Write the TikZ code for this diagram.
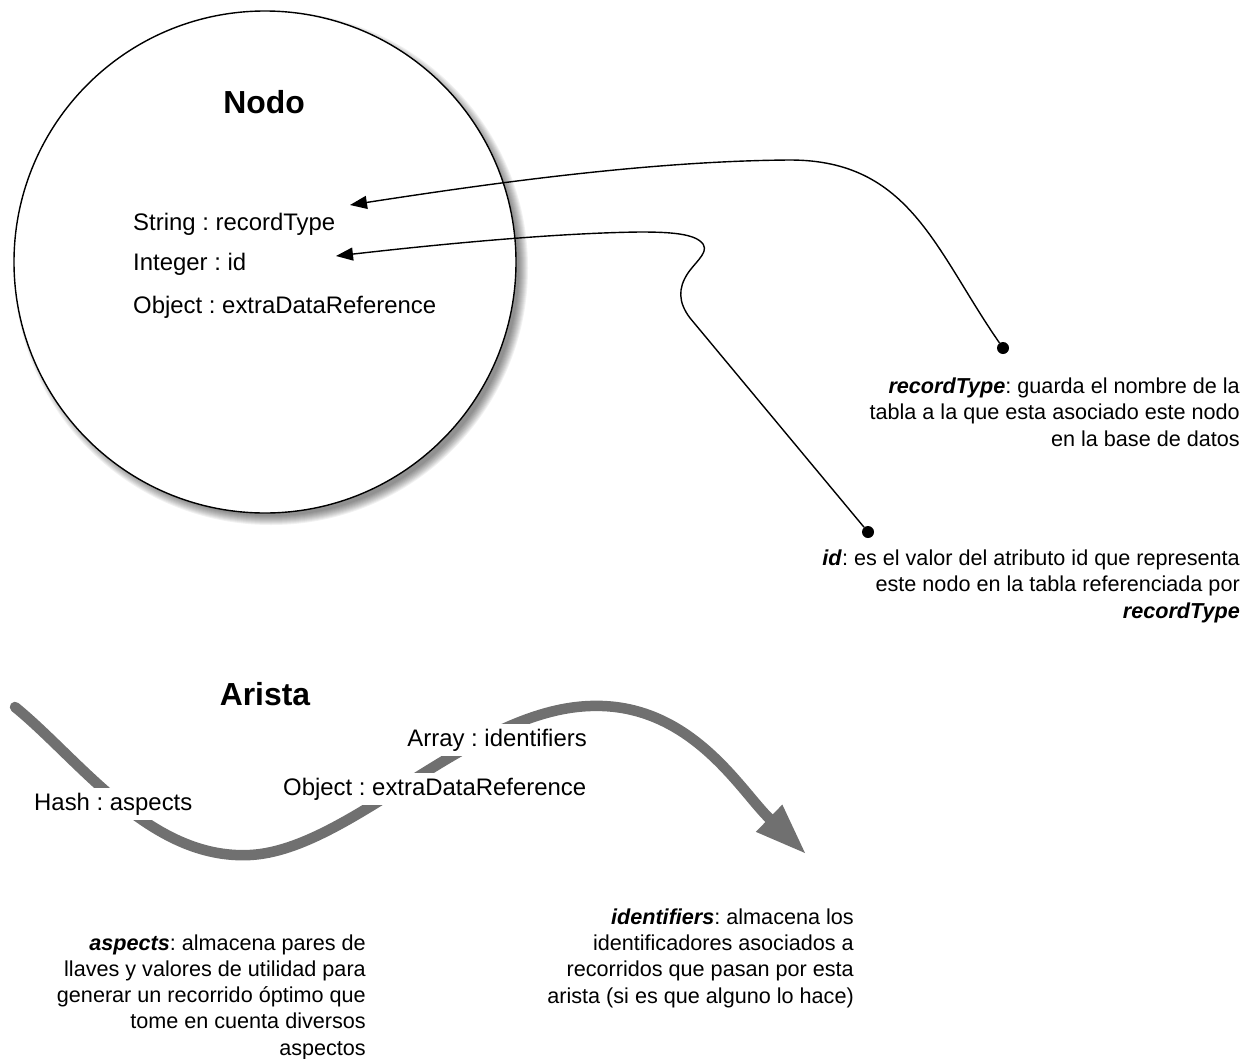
\documentclass[tikz,border=0pt]{standalone}
\usepackage{fontspec}
\setmainfont{Liberation Sans}
\usetikzlibrary{arrows.meta}

\definecolor{edgegray}{HTML}{707070}
\frenchspacing

\begin{document}
\begin{tikzpicture}[x=1bp,y=-1bp,
  attr/.style={font=\fontsize{24}{28}\selectfont, inner sep=0pt},
  heading/.style={font=\fontsize{32}{38}\selectfont\bfseries, inner sep=0pt},
  note/.style={font=\fontsize{21.7}{26.3}\selectfont, align=right, inner sep=0pt},
  masked/.style={attr, fill=white, inner xsep=3bp, inner ysep=5bp},
  pin/.style={circle, fill=black, inner sep=0pt, minimum size=12bp},
  link/.style={draw=black, line width=1.4bp, -{Triangle[length=17bp,width=13bp]}},
  flow/.style={draw=edgegray, line width=10.5bp, line cap=round,
               -{Triangle[length=50bp,width=38bp,line width=0pt]}}
]
\useasboundingbox (0,0) rectangle (1254,1059);

% soft drop shadow behind the node circle
\foreach \r in {248,249,...,257}
  \fill[black, opacity=0.055] (271,268) circle [radius=\r];

% the node
\node[draw=black, line width=1.4bp, fill=white, circle, minimum size=502bp, inner sep=0pt]
  (nodo) at (265,262) {};

\node[heading, anchor=base] (nodoTitle) at (264,113) {Nodo};
\node[attr, anchor=base west] (fRecord) at (133,230) {String : recordType};
\node[attr, anchor=base west] (fId) at (133,270) {Integer : id};
\node[attr, anchor=base west] (fExtra) at (133,313) {Object : extraDataReference};

% annotation pins and their leaders
\node[pin] (pinA) at (1003,348) {};
\node[pin] (pinB) at (868,532) {};
\coordinate (tipA) at (350,205);
\coordinate (tipB) at (336,256);

\draw[link] (pinA) .. controls (935,250) and (910,160) .. (790,160)
                   .. controls (645,161) and (480,185) .. (tipA);
\draw[link] (pinB) -- (690,318)
                   .. controls (678,302) and (678,288) .. (688,273)
                   .. controls (697,260) and (712,250) .. (700,241)
                   .. controls (690,233) and (665,232) .. (640,232)
                   .. controls (560,233) and (450,243) .. (tipB);

% multi-line notes are anchored on the baseline of their last line
\node[note, anchor=base east] (noteRecord) at (1240,446)
  {\textbf{\textit{recordType}}: guarda el nombre de la\\
   tabla a la que esta asociado este nodo\\
   en la base de datos};
\node[note, anchor=base east] (noteId) at (1240,618)
  {\textbf{\textit{id}}: es el valor del atributo id que representa\\
   este nodo en la tabla referenciada por\\
   \textbf{\textit{recordType}}};

% the edge
\node[heading, anchor=base] (aristaTitle) at (265,705) {Arista};
\coordinate (flowStart) at (15,707);
\coordinate (flowEnd) at (805,853);
\draw[flow] (flowStart) .. controls (80,760) and (150,860) .. (250,855)
                        .. controls (350,850) and (470,710) .. (590,706)
                        .. controls (690,702) and (740,790) .. (flowEnd);

\node[masked, anchor=base west] (fHash) at (31,810) {Hash : aspects};
\node[masked, anchor=base east] (fIdent) at (590,746) {Array : identifiers};
\node[masked, anchor=base west] (fExtraEdge) at (280,795) {Object : extraDataReference};

\node[note, anchor=base east] (noteAspects) at (366,1055)
  {\textbf{\textit{aspects}}: almacena pares de\\
   llaves y valores de utilidad para\\
   generar un recorrido óptimo que\\
   tome en cuenta diversos\\
   aspectos};
\node[note, anchor=base east] (noteIdent) at (854,1003)
  {\textbf{\textit{identifiers}}: almacena los\\
   identificadores asociados a\\
   recorridos que pasan por esta\\
   arista (si es que alguno lo hace)};
\end{tikzpicture}
\end{document}
